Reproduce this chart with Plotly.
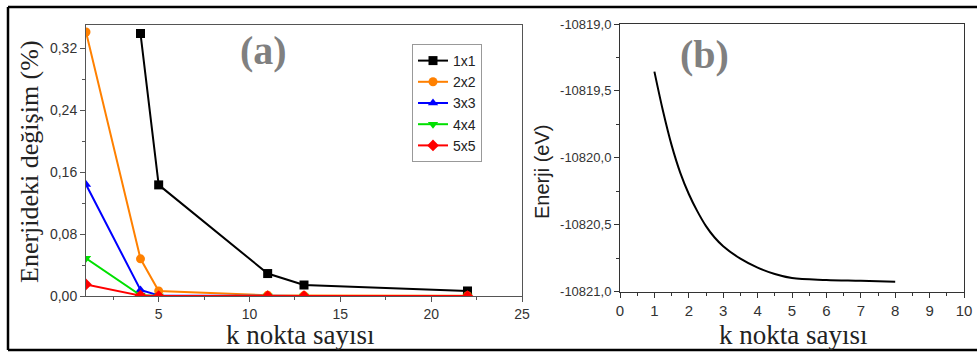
import plotly.graph_objects as go

W, H = 977, 352

# ---- Panel (a) data ----
x_1x1 = [4, 5, 11, 13, 22]
y_1x1 = [0.339, 0.1435, 0.029, 0.0142, 0.0065]
x_nxn = [1, 4, 5, 11, 13, 22]
y_2x2 = [0.341, 0.048, 0.0065, 0.001, 0.0005, 0.0003]
y_3x3 = [0.144, 0.0078, 0.0008, 0.0, 0.0, 0.0]
y_4x4 = [0.0487, 0.001, 0.0, 0.0, 0.0, 0.0]
y_5x5 = [0.015, 0.0005, 0.0, 0.0, 0.0, 0.0]
series_names = ["1x1", "2x2", "3x3", "4x4", "5x5"]
a_yticks = [0.0, 0.08, 0.16, 0.24, 0.32]
a_yticklabels = ["0,00", "0,08", "0,16", "0,24", "0,32"]
a_xticks = [5, 10, 15, 20, 25]

# ---- Panel (b) data ----
x_b = [1, 1.25, 1.5, 1.75, 2, 2.25, 2.5, 2.75, 3, 3.5, 4, 4.5, 5, 6, 7, 8]
y_b = [-10819.356, -10819.65, -10819.905, -10820.11, -10820.27, -10820.40,
       -10820.51, -10820.595, -10820.66, -10820.753, -10820.82, -10820.868,
       -10820.898, -10820.912, -10820.918, -10820.925]
b_yticks = [-10821.0, -10820.5, -10820.0, -10819.5, -10819.0]
b_yticklabels = ["-10821,0", "-10820,5", "-10820,0", "-10819,5", "-10819,0"]
b_xticks = list(range(0, 11))

colors = ["#000000", "#FF8000", "#0000FF", "#00E000", "#FF0000"]
symbols = ["square", "circle", "triangle-up", "triangle-down", "diamond"]

fig = go.Figure()
ys = [y_1x1, y_2x2, y_3x3, y_4x4, y_5x5]
for i, name in enumerate(series_names):
    xx = x_1x1 if i == 0 else x_nxn
    fig.add_trace(go.Scatter(
        x=xx, y=ys[i], name=name, mode="lines+markers",
        line=dict(color=colors[i], width=2),
        marker=dict(color=colors[i], symbol=symbols[i], size=9),
        xaxis="x", yaxis="y"))

fig.add_trace(go.Scatter(
    x=x_b, y=y_b, mode="lines", showlegend=False,
    line=dict(color="black", width=2, shape="spline", smoothing=1.0),
    xaxis="x2", yaxis="y2"))

tickfont = dict(family="Liberation Sans, Arial", size=14, color="#333333")
axcommon = dict(showline=True, mirror=True, linecolor="#555555", linewidth=1,
                ticks="outside", ticklen=5, tickcolor="#555555", automargin=False,
                showgrid=False, zeroline=False, tickfont=tickfont)
axb = {**axcommon, "linecolor": "#333333", "tickcolor": "#333333"}

fig.update_layout(
    width=W, height=H,
    margin=dict(l=0, r=0, t=0, b=0),
    paper_bgcolor="white", plot_bgcolor="white",
    xaxis=dict(domain=[86 / W, 522 / W], range=[1, 25], tickvals=a_xticks,
               minor=dict(ticks="outside", ticklen=3, tick0=0, dtick=2.5, tickcolor="#555555"),
               anchor="y", **axcommon),
    yaxis=dict(domain=[1 - 296 / H, 1 - 25 / H], range=[0, 0.35],
               tickvals=a_yticks, ticktext=a_yticklabels,
               minor=dict(ticks="outside", ticklen=3, tick0=0, dtick=0.04, tickcolor="#555555"),
               anchor="x", **axcommon),
    xaxis2=dict(domain=[620 / W, 964 / W], range=[0, 10], tickvals=b_xticks,
                minor=dict(ticks="outside", ticklen=3, tick0=0, dtick=0.5, tickcolor="#333333"),
                anchor="y2", **{**axb, "tickfont": dict(family="Liberation Sans, Arial", size=15, color="#333333")}),
    yaxis2=dict(domain=[1 - 291.7 / H, 1 - 24 / H], range=[-10821, -10819],
                tickvals=b_yticks, ticktext=b_yticklabels,
                minor=dict(ticks="outside", ticklen=3, tick0=-10821, dtick=0.25, tickcolor="#333333"),
                anchor="x2", **{**axb, "tickfont": dict(family="Liberation Sans, Arial", size=13, color="#333333")}),
    showlegend=True,
    legend=dict(x=412 / W, y=1 - 44 / H, xanchor="left", yanchor="top",
                bgcolor="white", bordercolor="#999999", borderwidth=1,
                font=dict(family="Liberation Sans, Arial", size=14, color="#222222"),
                tracegroupgap=0, itemwidth=30),
)

serif = "Liberation Serif, Times New Roman, serif"
ann = [
    dict(text="<b>(a)</b>", x=263 / W, y=1 - 50 / H, font=dict(family=serif, size=40, color="#808080")),
    dict(text="<b>(b)</b>", x=704 / W, y=1 - 54 / H, font=dict(family=serif, size=40, color="#808080")),
    dict(text="Enerjideki değişim (%)", x=29 / W, y=1 - 162 / H, textangle=-90,
         font=dict(family=serif, size=26, color="#222222")),
    dict(text="k nokta sayısı", x=300 / W, y=1 - 335 / H, font=dict(family=serif, size=27, color="#222222")),
    dict(text="Enerji (eV)", x=542 / W, y=1 - 172 / H, textangle=-90,
         font=dict(family="Liberation Sans, Arial", size=20, color="#222222")),
    dict(text="k nokta sayısı", x=793 / W, y=1 - 335 / H, font=dict(family=serif, size=27, color="#222222")),
]
for a in ann:
    fig.add_annotation(xref="paper", yref="paper", showarrow=False,
                       xanchor="center", yanchor="middle", **a)

# outer frame
for (x0, y0, x1, y1) in [(8, 7, 977, 7), (8, 7, 8, 350), (8, 350, 977, 350)]:
    fig.add_shape(type="line", xref="paper", yref="paper",
                  x0=x0 / W, y0=1 - y0 / H, x1=x1 / W, y1=1 - y1 / H,
                  line=dict(color="black", width=2.5))

fig.write_html("out.html")
